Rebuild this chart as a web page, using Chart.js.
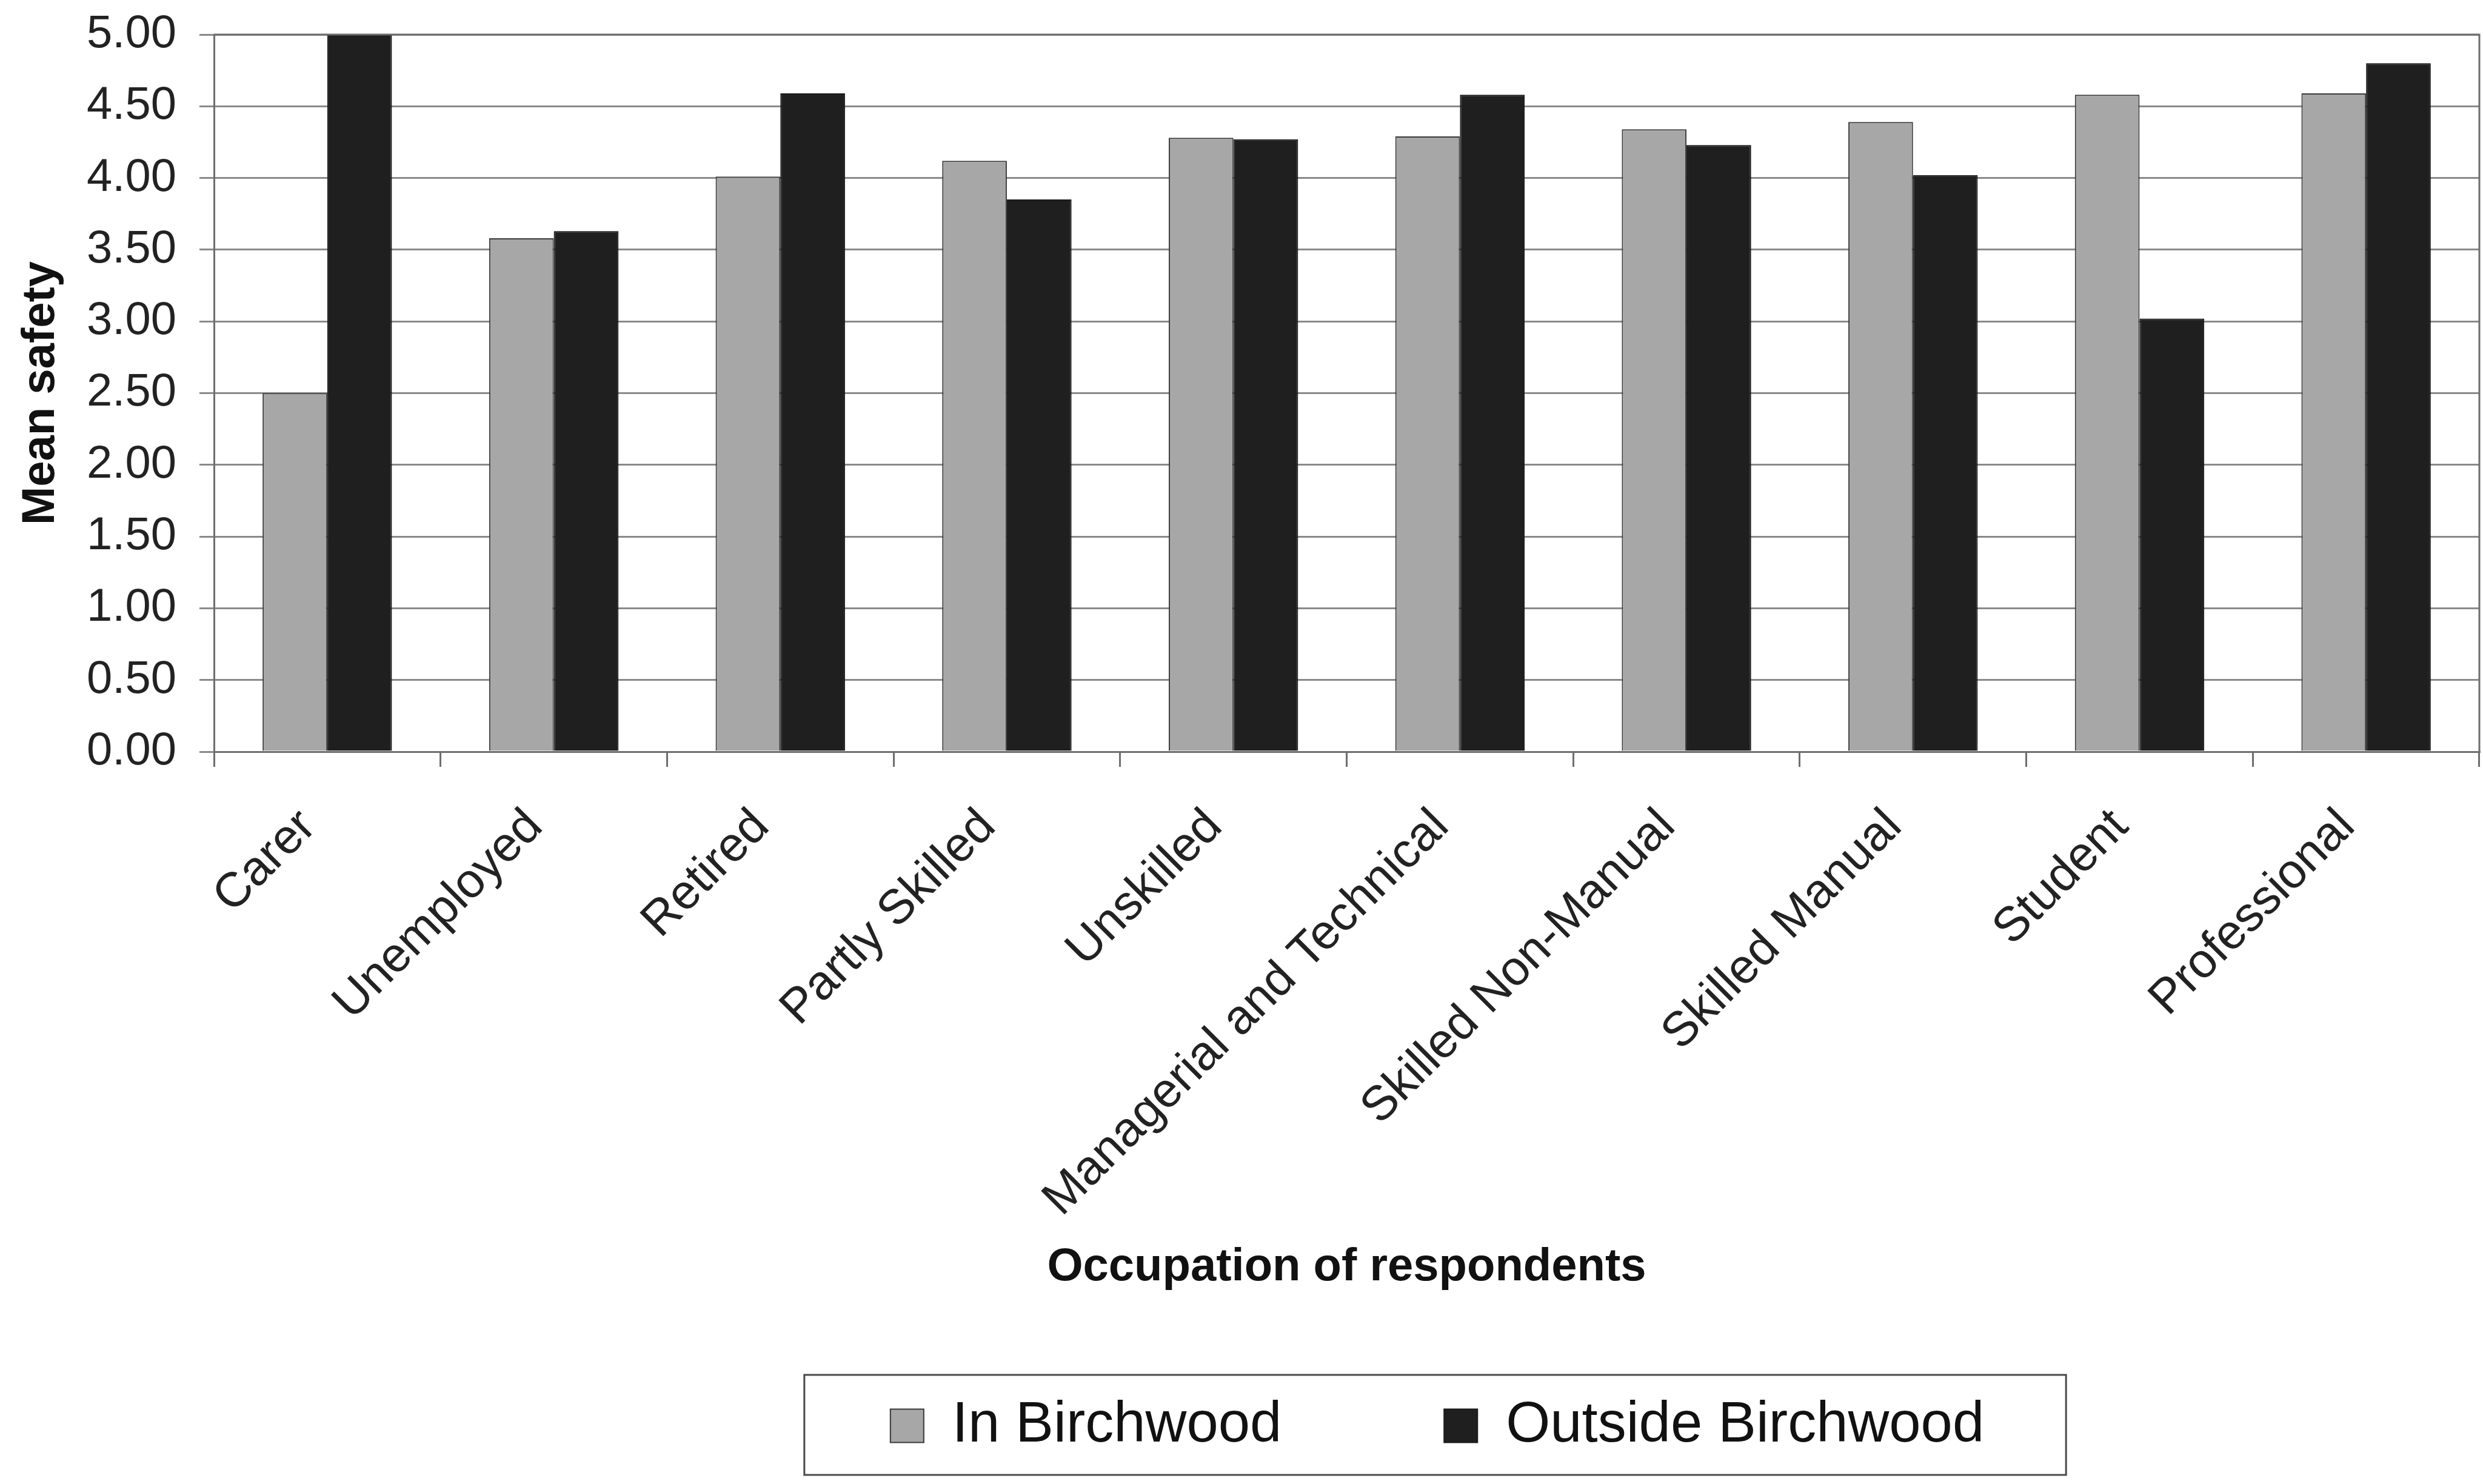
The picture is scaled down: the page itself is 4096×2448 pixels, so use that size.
<!DOCTYPE html>
<html>
<head>
<meta charset="utf-8">
<title>Mean safety by occupation</title>
<script src="https://cdn.jsdelivr.net/npm/chart.js@4/dist/chart.umd.min.js"></script>
<style>
  html, body { margin: 0; padding: 0; background: #ffffff; }
  #wrap { width: 4096px; height: 2448px; }
  canvas { display: block; }
</style>
</head>
<body>
<div id="wrap"><canvas id="chart" width="4096" height="2448"></canvas></div>
<script>
// Occupation groups along the x axis
const categories = [
  'Carer', 'Unemployed', 'Retired', 'Partly Skilled', 'Unskilled',
  'Managerial and Technical', 'Skilled Non-Manual', 'Skilled Manual',
  'Student', 'Professional'
];

// Mean safety score per group
const inBirchwood      = [2.50, 3.58, 4.01, 4.12, 4.28, 4.29, 4.34, 4.39, 4.58, 4.59];
const outsideBirchwood = [5.00, 3.63, 4.59, 3.85, 4.27, 4.58, 4.23, 4.02, 3.02, 4.80];

const seriesNames = ['In Birchwood', 'Outside Birchwood'];

// Value axis
const yMin = 0;
const yMax = 5;
const yStep = 0.5;

const FONT = '"Liberation Sans", Arial, Helvetica, sans-serif';

// Frame around the plot area and the boxed legend
const framePlugin = {
  id: 'frame',
  afterLayout(chart) {
    const lg = chart.legend;
    if (!lg) return;
    // centre the legend row under the plot and lift it up below the axis title
    const dx = 2371 - (lg.left + lg.right) / 2;
    lg.left += dx;
    lg.right += dx;
    lg.top = 2037;
    lg.bottom = chart.height;
  },
  afterDraw(chart) {
    const ctx = chart.ctx;
    const a = chart.chartArea;
    ctx.save();
    ctx.strokeStyle = '#6e6e6e';
    ctx.lineWidth = 3;
    ctx.beginPath();
    ctx.moveTo(a.left, a.top);
    ctx.lineTo(a.right, a.top);
    ctx.lineTo(a.right, a.bottom);
    ctx.stroke();

    const hb = chart.legend && chart.legend.legendHitBoxes;
    if (hb && hb.length) {
      const first = hb[0];
      const last = hb[hb.length - 1];
      const cy = first.top + first.height / 2;
      const x0 = first.left - 142;
      const x1 = last.left + last.width + 135;
      ctx.strokeStyle = '#4a4a4a';
      ctx.lineWidth = 3;
      ctx.strokeRect(x0, cy - 84, x1 - x0, 165);
    }
    ctx.restore();
  }
};

new Chart(document.getElementById('chart'), {
  type: 'bar',
  data: {
    labels: categories,
    datasets: [
      {
        label: seriesNames[0],
        data: inBirchwood,
        backgroundColor: '#a7a7a7',
        borderColor: '#3a3a3a',
        borderWidth: 2,
        categoryPercentage: 0.571,
        barPercentage: 1.0
      },
      {
        label: seriesNames[1],
        data: outsideBirchwood,
        backgroundColor: '#1f1f1f',
        borderColor: '#1a1a1a',
        borderWidth: 2,
        categoryPercentage: 0.571,
        barPercentage: 1.0
      }
    ]
  },
  options: {
    responsive: false,
    animation: false,
    devicePixelRatio: 1,
    layout: { padding: { top: 57, right: 6, bottom: 0, left: 0 } },
    plugins: {
      title: { display: false },
      tooltip: { enabled: false },
      legend: {
        position: 'bottom',
        maxHeight: 311,
        labels: {
          color: '#111111',
          font: { family: FONT, size: 94 },
          boxWidth: 55,
          boxHeight: 55,
          padding: 268
        }
      }
    },
    scales: {
      x: {
        offset: true,
        afterFit(scale) { scale.height = 897; },
        grid: {
          offset: true,
          drawOnChartArea: false,
          drawTicks: true,
          tickLength: 25,
          color: '#6e6e6e',
          lineWidth: 3
        },
        border: { display: true, color: '#6e6e6e', width: 3 },
        ticks: {
          autoSkip: false,
          minRotation: 45,
          maxRotation: 45,
          padding: 52,
          labelOffset: -31,
          color: '#222222',
          font: { family: FONT, size: 80 }
        },
        title: {
          display: true,
          text: 'Occupation of respondents',
          color: '#111111',
          font: { family: FONT, size: 76, weight: 'bold' },
          padding: { top: 0, bottom: 0 }
        }
      },
      y: {
        min: yMin,
        max: yMax,
        afterFit(scale) {
          scale.width = 353;
          scale.paddingTop = 0;
          scale.paddingBottom = 0;
        },
        grid: {
          color: '#8a8a8a',
          lineWidth: 3,
          drawTicks: true,
          tickLength: 24
        },
        border: { display: true, color: '#6e6e6e', width: 3 },
        ticks: {
          stepSize: yStep,
          padding: 38,
          color: '#222222',
          font: { family: FONT, size: 76 },
          callback: (v) => Number(v).toFixed(2)
        },
        title: {
          display: true,
          text: 'Mean safety',
          color: '#111111',
          font: { family: FONT, size: 76, weight: 'bold' },
          padding: { top: 22, bottom: 0 }
        }
      }
    }
  },
  plugins: [framePlugin]
});
</script>
</body>
</html>
